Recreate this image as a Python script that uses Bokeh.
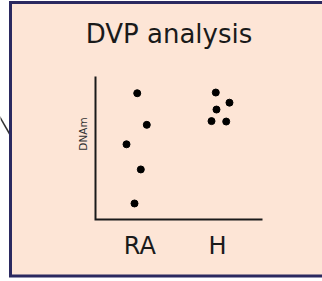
from bokeh.plotting import figure
from bokeh.models import Range1d, ColumnDataSource
from bokeh.core.properties import value
from bokeh.embed import file_html
from bokeh.resources import INLINE
import math

# data
categories = ["RA", "H"]
group = ["RA", "RA", "RA", "RA", "RA", "H", "H", "H", "H", "H"]
jitter = [-0.033, 0.09, -0.171, 0.013, -0.068, -0.022, 0.154, -0.013, -0.077, 0.112]
dnam = [8.83, 6.62, 5.26, 3.50, 1.12, 8.88, 8.17, 7.69, 6.88, 6.85]
title_text = "DVP analysis"
y_label = "DNAm"

PEACH = "#fde5d6"
NAVY = "#2b2960"
INK = "#1a1a1a"

W, H = 322, 281
# inner plot area (pixels) and its data extent
FL, FR, FT, FB = 95, 262, 76, 219
X0, X1 = 0.43, 2.579
Y0, Y1 = 0.0, 10.0

def dx(px):
    return X0 + (px - FL) * (X1 - X0) / (FR - FL)

def dy(py):
    return Y0 + (FB - py) * (Y1 - Y0) / (FB - FT)

xs = [categories.index(g) + 1 + j for g, j in zip(group, jitter)]
src = ColumnDataSource(dict(x=xs, y=dnam))

p = figure(width=W, height=H, output_backend="svg", toolbar_location=None,
           x_range=Range1d(dx(0), dx(W)), y_range=Range1d(dy(H), dy(0)),
           x_axis_location=None, y_axis_location=None, min_border=0)
p.background_fill_color = "white"
p.border_fill_color = "white"
p.outline_line_color = None
p.grid.visible = False

# connector stub at the left edge
p.line(x=[dx(-1), dx(10)], y=[dy(116), dy(135)], line_color="#333333", line_width=1.5)

# panel box
p.quad(left=dx(10), right=dx(345), top=dy(2), bottom=dy(275.5),
       fill_color=PEACH, line_color=NAVY, line_width=3, line_join="miter")

# axes of the inner plot
p.line(x=[X0, X0, X1], y=[Y1, Y0, Y0], line_color=INK, line_width=2, line_join="miter")

# category labels
p.text(x=[i + 1 for i in range(len(categories))], y=[dy(245)] * len(categories), text=categories,
       text_font=value("DejaVu Sans"), text_font_size=value("24px"), text_color=INK,
       text_align="center", text_baseline="alphabetic")

# title and y label
p.text(x=[dx(168.5)], y=[dy(33)], text=[title_text],
       text_font=value("DejaVu Sans"), text_font_size=value("26px"), text_color=INK,
       text_align="center", text_baseline="alphabetic")
p.text(x=[dx(82)], y=[dy(133.5)], text=[y_label], angle=math.pi / 2,
       text_font=value("DejaVu Sans"), text_font_size=value("10.5px"), text_color="#333333",
       text_align="center", text_baseline="middle")

p.scatter("x", "y", source=src, size=7, color="black")

open("out.html", "w").write(file_html(p, INLINE))
